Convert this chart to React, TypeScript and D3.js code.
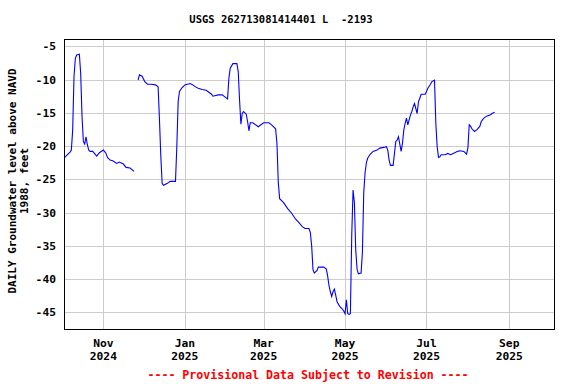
import React, { useEffect, useRef } from 'react';
import * as d3 from 'd3';

// Daily groundwater level (null = gap in record)
const obsDates: string[] = [
  '2024-10-03', '2024-10-07', '2024-10-08', '2024-10-09', '2024-10-10', '2024-10-11', '2024-10-12',
  '2024-10-14', '2024-10-15', '2024-10-16', '2024-10-17', '2024-10-18', '2024-10-19', '2024-10-20',
  '2024-10-21', '2024-10-22', '2024-10-24', '2024-10-27', '2024-10-29', '2024-11-01', '2024-11-03',
  '2024-11-04', '2024-11-06', '2024-11-08', '2024-11-11', '2024-11-13', '2024-11-16', '2024-11-18',
  '2024-11-21', '2024-11-24', '2024-11-25',
  '2024-11-27', '2024-11-28', '2024-11-30', '2024-12-02', '2024-12-04', '2024-12-07', '2024-12-10',
  '2024-12-12', '2024-12-13', '2024-12-14', '2024-12-15', '2024-12-16', '2024-12-19', '2024-12-21',
  '2024-12-25', '2024-12-26', '2024-12-27', '2024-12-28', '2024-12-30', '2025-01-01', '2025-01-05',
  '2025-01-07', '2025-01-09', '2025-01-11', '2025-01-14', '2025-01-17', '2025-01-19', '2025-01-21',
  '2025-01-22', '2025-01-26', '2025-01-29', '2025-01-31', '2025-02-02', '2025-02-03', '2025-02-04',
  '2025-02-06', '2025-02-09', '2025-02-10', '2025-02-11', '2025-02-12', '2025-02-13', '2025-02-14',
  '2025-02-16', '2025-02-17', '2025-02-18', '2025-02-19', '2025-02-21', '2025-02-25', '2025-03-01',
  '2025-03-05', '2025-03-07', '2025-03-10', '2025-03-11', '2025-03-12', '2025-03-13', '2025-03-16',
  '2025-03-19', '2025-03-22', '2025-03-25', '2025-03-27', '2025-03-30', '2025-04-01', '2025-04-04',
  '2025-04-05', '2025-04-06', '2025-04-07', '2025-04-08', '2025-04-10', '2025-04-11', '2025-04-15',
  '2025-04-17', '2025-04-18', '2025-04-19', '2025-04-20', '2025-04-21', '2025-04-22', '2025-04-23',
  '2025-04-24', '2025-04-25', '2025-04-27', '2025-04-29', '2025-04-30', '2025-05-01', '2025-05-02',
  '2025-05-03', '2025-05-04', '2025-05-05', '2025-05-06', '2025-05-07', '2025-05-08', '2025-05-09',
  '2025-05-10', '2025-05-11', '2025-05-13', '2025-05-14', '2025-05-15', '2025-05-16', '2025-05-17',
  '2025-05-18', '2025-05-20', '2025-05-22', '2025-05-25', '2025-05-27', '2025-05-30', '2025-06-01',
  '2025-06-02', '2025-06-03', '2025-06-04', '2025-06-06', '2025-06-07', '2025-06-08', '2025-06-09',
  '2025-06-10', '2025-06-12', '2025-06-13', '2025-06-14', '2025-06-15', '2025-06-16', '2025-06-17',
  '2025-06-19', '2025-06-20', '2025-06-21', '2025-06-22', '2025-06-24', '2025-06-25', '2025-06-26',
  '2025-06-27', '2025-06-30', '2025-07-01', '2025-07-02', '2025-07-04', '2025-07-05', '2025-07-07',
  '2025-07-08', '2025-07-09', '2025-07-10', '2025-07-11', '2025-07-12', '2025-07-15', '2025-07-17',
  '2025-07-19', '2025-07-21', '2025-07-24', '2025-07-26', '2025-07-29', '2025-07-31', '2025-08-01',
  '2025-08-02', '2025-08-03', '2025-08-04', '2025-08-06', '2025-08-08', '2025-08-10', '2025-08-11',
  '2025-08-13', '2025-08-15', '2025-08-18', '2025-08-19', '2025-08-21',
];

const obsLevels: (number | null)[] = [
  -21.7, -20.9, -20.6, -17.6, -9.5, -6.8, -6.3,
  -6.2, -9.1, -15.5, -19.3, -19.7, -18.6, -19.8,
  -20.6, -20.8, -20.8, -21.5, -21.0, -20.6, -21.1,
  -21.7, -22.1, -22.2, -22.6, -22.4, -22.7, -23.2,
  -23.3, -23.8, null,
  -10.1, -9.3, -9.5, -10.3, -10.7, -10.7, -10.8,
  -11.1, -16.0, -21.5, -25.6, -25.9, -25.6, -25.3,
  -25.3, -20.1, -13.3, -11.8, -11.2, -10.8, -10.6,
  -10.8, -11.1, -11.3, -11.5, -11.6, -11.9, -12.2,
  -12.5, -12.3, -12.3, -12.6, -12.9, -9.8, -8.3,
  -7.6, -7.6, -8.8, -13.1, -16.7, -15.1, -14.8,
  -15.2, -16.3, -17.7, -16.5, -16.5, -17.1, -16.5,
  -16.5, -16.8, -17.4, -19.6, -25.5, -27.9, -28.5,
  -29.4, -30.1, -31.0, -31.4, -32.1, -32.4, -32.4,
  -33.0, -35.0, -38.6, -39.1, -38.7, -38.2, -38.2,
  -38.5, -39.6, -41.0, -41.9, -42.6, -41.9, -41.5,
  -42.4, -43.4, -44.1, -44.5, -44.8, -45.2, -43.1,
  -45.2, -45.3, -45.2, -33.5, -26.6, -28.5, -35.6,
  -38.5, -39.2, -39.1, -36.0, -27.0, -24.0, -22.5,
  -21.8, -21.2, -20.8, -20.6, -20.3, -20.2, -20.1,
  -20.6, -22.1, -22.9, -22.9, -21.1, -19.3, -19.1,
  -18.6, -20.8, -19.6, -17.6, -16.6, -15.8, -16.8,
  -15.3, -14.8, -14.1, -13.6, -15.1, -13.3, -12.8,
  -12.2, -12.2, -11.8, -11.3, -10.7, -10.3, -10.1,
  -16.6, -20.1, -21.7, -21.6, -21.3, -21.3, -21.1,
  -21.3, -21.1, -20.8, -20.7, -20.8, -21.2, -20.3,
  -16.8, -17.0, -17.4, -17.8, -17.5, -17.0, -16.3,
  -15.8, -15.5, -15.3, -15.1, -14.9,
];

const yTicks = [-5, -10, -15, -20, -25, -30, -35, -40, -45];
const xTickDates = ['2024-11-01', '2025-01-01', '2025-03-01', '2025-05-01', '2025-07-01', '2025-09-01'];
const xTickMonths = ['Nov', 'Jan', 'Mar', 'May', 'Jul', 'Sep'];
const xTickYears = ['2024', '2025', '2025', '2025', '2025', '2025'];

const FONT = '"DejaVu Sans Mono", "Liberation Mono", monospace';

const App: React.FC = () => {
  const svgRef = useRef<SVGSVGElement>(null);

  useEffect(() => {
    if (!svgRef.current) return;
    const svg = d3.select(svgRef.current);
    svg.selectAll('*').remove();

    const W = 576, H = 384;
    const plot = { left: 64, right: 554, top: 39, bottom: 329 };
    const parse = d3.utcParse('%Y-%m-%d');

    const data = obsDates.map((d, i) => ({ date: parse(d) as Date, v: obsLevels[i] }));

    const x = d3.scaleUtc()
      .domain([new Date(Date.UTC(2024, 9, 2, 12)), new Date(Date.UTC(2025, 9, 4, 12))])
      .range([plot.left, plot.right]);
    const y = d3.scaleLinear().domain([-47.5, -3.9]).range([plot.bottom, plot.top]);

    svg.attr('width', W).attr('height', H);
    svg.append('rect').attr('width', W).attr('height', H).attr('fill', '#fff');

    // grid
    const grid = svg.append('g').attr('stroke', '#cccccc').attr('stroke-width', 1).attr('shape-rendering', 'crispEdges');
    grid.selectAll('.hg').data(yTicks).enter().append('line')
      .attr('x1', plot.left).attr('x2', plot.right)
      .attr('y1', d => Math.round(y(d)) + 0.5).attr('y2', d => Math.round(y(d)) + 0.5);
    grid.selectAll('.vg').data(xTickDates).enter().append('line')
      .attr('y1', plot.top).attr('y2', plot.bottom)
      .attr('x1', d => Math.round(x(parse(d) as Date)) + 0.5)
      .attr('x2', d => Math.round(x(parse(d) as Date)) + 0.5);

    // data line
    const line = d3.line<{ date: Date; v: number | null }>()
      .defined(d => d.v != null)
      .x(d => x(d.date))
      .y(d => y(d.v as number));
    svg.append('path').datum(data)
      .attr('d', line)
      .attr('fill', 'none')
      .attr('stroke', '#0000ff')
      .attr('stroke-width', 1.1);

    // frame
    svg.append('rect')
      .attr('x', plot.left + 0.5).attr('y', plot.top + 0.5)
      .attr('width', plot.right - plot.left).attr('height', plot.bottom - plot.top)
      .attr('fill', 'none').attr('stroke', '#000').attr('stroke-width', 1.5)
      .attr('shape-rendering', 'crispEdges');

    // y tick labels
    svg.append('g').selectAll('text').data(yTicks).enter().append('text')
      .attr('x', 56).attr('y', d => y(d) + 4)
      .attr('text-anchor', 'end')
      .style('font-family', FONT).style('font-weight', 'bold').style('font-size', '11.3px')
      .text(d => d);

    // x tick labels
    const xl = svg.append('g')
      .style('font-family', FONT).style('font-weight', 'bold').style('font-size', '11.3px')
      .attr('text-anchor', 'middle');
    xTickDates.forEach((d, i) => {
      const px = x(parse(d) as Date);
      xl.append('text').attr('x', px).attr('y', 347).text(xTickMonths[i]);
      xl.append('text').attr('x', px).attr('y', 360).text(xTickYears[i]);
    });

    // title
    svg.append('text')
      .attr('x', 281).attr('y', 23)
      .attr('text-anchor', 'middle')
      .style('font-family', FONT).style('font-weight', 'bold').style('font-size', '10.5px')
      .style('white-space', 'pre')
      .text('USGS 262713081414401 L  -2193');

    // y axis label
    const yl = svg.append('g')
      .attr('transform', 'translate(0,181) rotate(-90)')
      .style('font-family', FONT).style('font-weight', 'bold').style('font-size', '11px')
      .attr('text-anchor', 'middle');
    yl.append('text').attr('x', 0).attr('y', 16).text('DAILY Groundwater level above NAVD');
    yl.append('text').attr('x', 0).attr('y', 28).text('1988, feet');

    // footer
    svg.append('text')
      .attr('x', 308).attr('y', 379)
      .attr('text-anchor', 'middle')
      .attr('fill', '#ff0000')
      .style('font-family', FONT).style('font-weight', 'bold').style('font-size', '11.6px')
      .text('---- Provisional Data Subject to Revision ----');
  }, []);

  return (
    <div style={{ position: 'absolute', left: 0, top: 0 }}>
      <svg ref={svgRef} style={{ display: 'block' }}></svg>
    </div>
  );
};

export default App;
